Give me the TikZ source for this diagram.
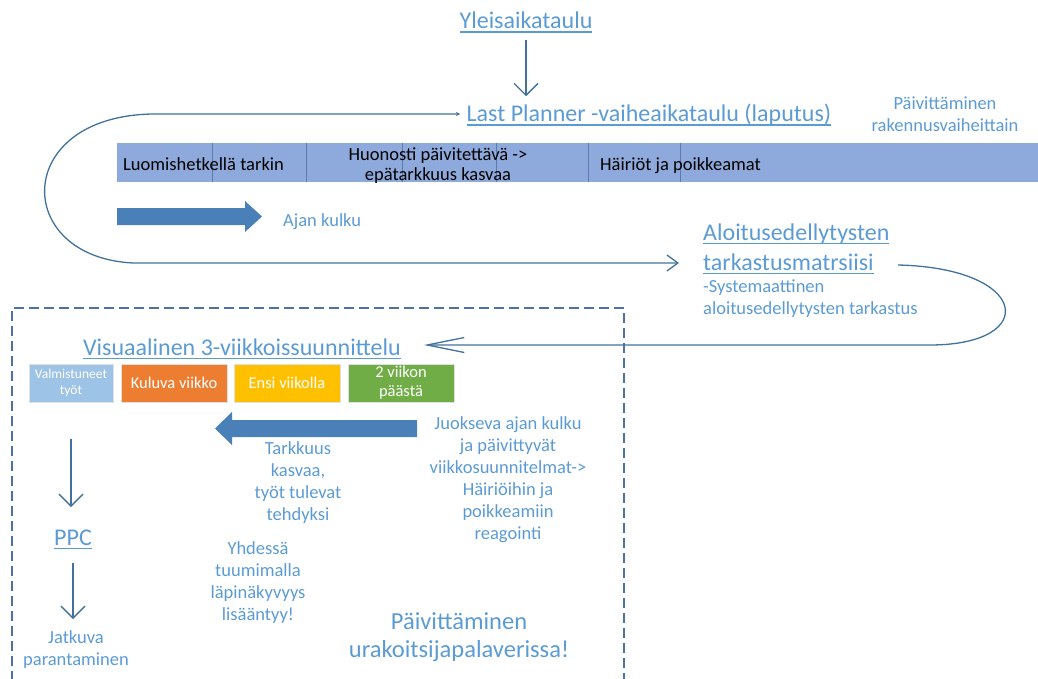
\documentclass[tikz,border=0pt]{standalone}
\usepackage{fontspec}
\setmainfont{Carlito}
\usetikzlibrary{arrows.meta}

\definecolor{txtblue}{HTML}{5B9BD5}
\definecolor{linkline}{HTML}{41719C}
\definecolor{blockblue}{HTML}{4A80B8}
\definecolor{barblue}{HTML}{8EA9DB}
\definecolor{barline}{HTML}{5A7BB0}
\definecolor{boxdash}{HTML}{4F6FA8}
\definecolor{doneblue}{HTML}{9DC3E6}
\definecolor{noworange}{HTML}{ED7D31}
\definecolor{nextyellow}{HTML}{FFC000}
\definecolor{latergreen}{HTML}{70AD47}

% underlined text: the rule sits a little below the baseline
\newsavebox{\ulinebox}
\newcommand{\uln}[1]{\sbox{\ulinebox}{#1}\rlap{\usebox{\ulinebox}}\rule[-3.6pt]{\wd\ulinebox}{1.1pt}}
\newcommand{\fsz}[2]{\fontsize{#1}{#2}\selectfont}

\tikzset{
  heading/.style={text=txtblue, font=\fsz{24}{30}, inner sep=0pt, align=center},
  note/.style={text=txtblue, font=\fsz{18.5}{22}, inner sep=0pt, align=center},
  bignote/.style={text=txtblue, font=\fsz{24.5}{28}, inner sep=0pt, align=center},
  barlabel/.style={text=black, font=\fsz{18.5}{20.5}, inner sep=0pt, align=center},
  flow/.style={draw=linkline, line width=1.3pt},
  downtip/.style={-{Straight Barb[length=12pt,width=24pt,line width=1.3pt]}},
  weekbox/.style={minimum height=38pt, inner sep=0pt, text=white,
    font=\fsz{16.5}{19}, align=center, draw=black!12, line width=0.8pt},
  blockarrow/.style={fill=blockblue, draw=none},
}

\begin{document}
\begin{tikzpicture}[x=1pt, y=-1pt]
\useasboundingbox (0,0) rectangle (1038,679);

% --- top: general schedule and phase schedule ---
\node[heading, anchor=base] (yleis) at (526,29) {\uln{Yleisaikataulu}};
\node[heading, anchor=base] (lastplanner) at (649,122) {\uln{Last Planner -vaiheaikataulu (laputus)}};
\node[note, anchor=base] (paivrak) at (945,132) {Päivittäminen\\rakennusvaiheittain};
\draw[flow, downtip, shorten <=7pt, shorten >=8pt] (yleis.south) -- (yleis.south |- lastplanner.north);

% --- timeline bar ---
\fill[barblue] (117,143) rectangle (1038,182);
\foreach \dx in {212,306,402,496,588,680}
  \draw[barline, line width=0.9pt] (\dx,143) -- (\dx,182);
\node[barlabel, anchor=base west] (luomis) at (123,171) {Luomishetkellä tarkin};
\node[barlabel, anchor=base] (huonosti) at (438,181) {Huonosti päivitettävä ->\\epätarkkuus kasvaa};
\node[barlabel, anchor=base west] (hairiot) at (600,171) {Häiriöt ja poikkeamat};

% --- passing of time ---
\fill[blockarrow] (117,208) -- (245,208) -- (245,201) -- (262,216.5) -- (245,232) -- (245,225) -- (117,225) -- cycle;
\node[note, anchor=base west] (ajankulku) at (283,226) {Ajan kulku};

% --- start condition matrix ---
\node[heading, anchor=base west, align=left] (aloitus) at (703,270) {\uln{Aloitusedellytysten}\\\uln{tarkastusmatrsiisi}};
\node[note, anchor=base west, align=left] (systemaattinen) at (703,314) {-Systemaattinen\\aloitusedellytysten tarkastus};

\coordinate (loopstart) at (460,114);
\coordinate (aloitusin) at (679,263);
\draw[flow, {Stealth[length=4pt,width=4pt]}-{Straight Barb[length=11pt,width=16pt,line width=1.3pt]}]
  (loopstart) -- (153,114) .. controls (12,116) and (12,257) .. (133,263) -- (aloitusin);

% --- three-week planning frame ---
\draw[boxdash, line width=1.3pt, dash pattern=on 10pt off 5pt] (12,681) |- (624,308) -- (624,681);

\node[heading, anchor=base] (visu) at (242,355) {\uln{Visuaalinen 3-viikkoissuunnittelu}};
\coordinate (matrixout) at (898,265);
\coordinate (visuin) at (424,345);
\draw[flow, -{Straight Barb[length=37pt,width=15pt,line width=1.3pt]}]
  (matrixout) .. controls (1030,268) and (1040,345) .. (930,345) -- (visuin);

\node[weekbox, fill=doneblue, minimum width=84pt, font=\fsz{13.5}{16}] (done) at (71,383) {Valmistuneet\\työt};
\node[weekbox, fill=noworange, minimum width=106pt] (now) at (174,383) {Kuluva viikko};
\node[weekbox, fill=nextyellow, minimum width=106pt] (next) at (287,383) {Ensi viikolla};
\node[weekbox, fill=latergreen, minimum width=106pt] (later) at (401,383) {2 viikon\\päästä};

\fill[blockarrow] (417,420) -- (232,420) -- (232,412) -- (215,428.5) -- (232,445) -- (232,437) -- (417,437) -- cycle;
\node[note, anchor=base] (juokseva) at (508,539) {Juokseva ajan kulku\\ja päivittyvät\\viikkosuunnitelmat->\\Häiriöihin ja\\poikkeamiin\\reagointi};
\node[note, anchor=base] (tarkkuus) at (298,520) {Tarkkuus\\kasvaa,\\työt tulevat\\tehdyksi};

\node[heading, anchor=base] (ppc) at (73,545) {\uln{PPC}};
\node[note, anchor=base] (jatkuva) at (76,665) {Jatkuva\\parantaminen};
\draw[flow, downtip] ([yshift=-37pt]done.south) -- (done.south |- 0,507);
\draw[flow, downtip] (ppc.south |- 0,563) -- (ppc.south |- 0,619);

\node[note, anchor=base] (yhdessa) at (258,620) {Yhdessä\\tuumimalla\\läpinäkyvyys\\lisääntyy!};
\node[bignote, anchor=base] (urakoitsija) at (459,657) {Päivittäminen\\urakoitsijapalaverissa!};
\end{tikzpicture}
\end{document}
